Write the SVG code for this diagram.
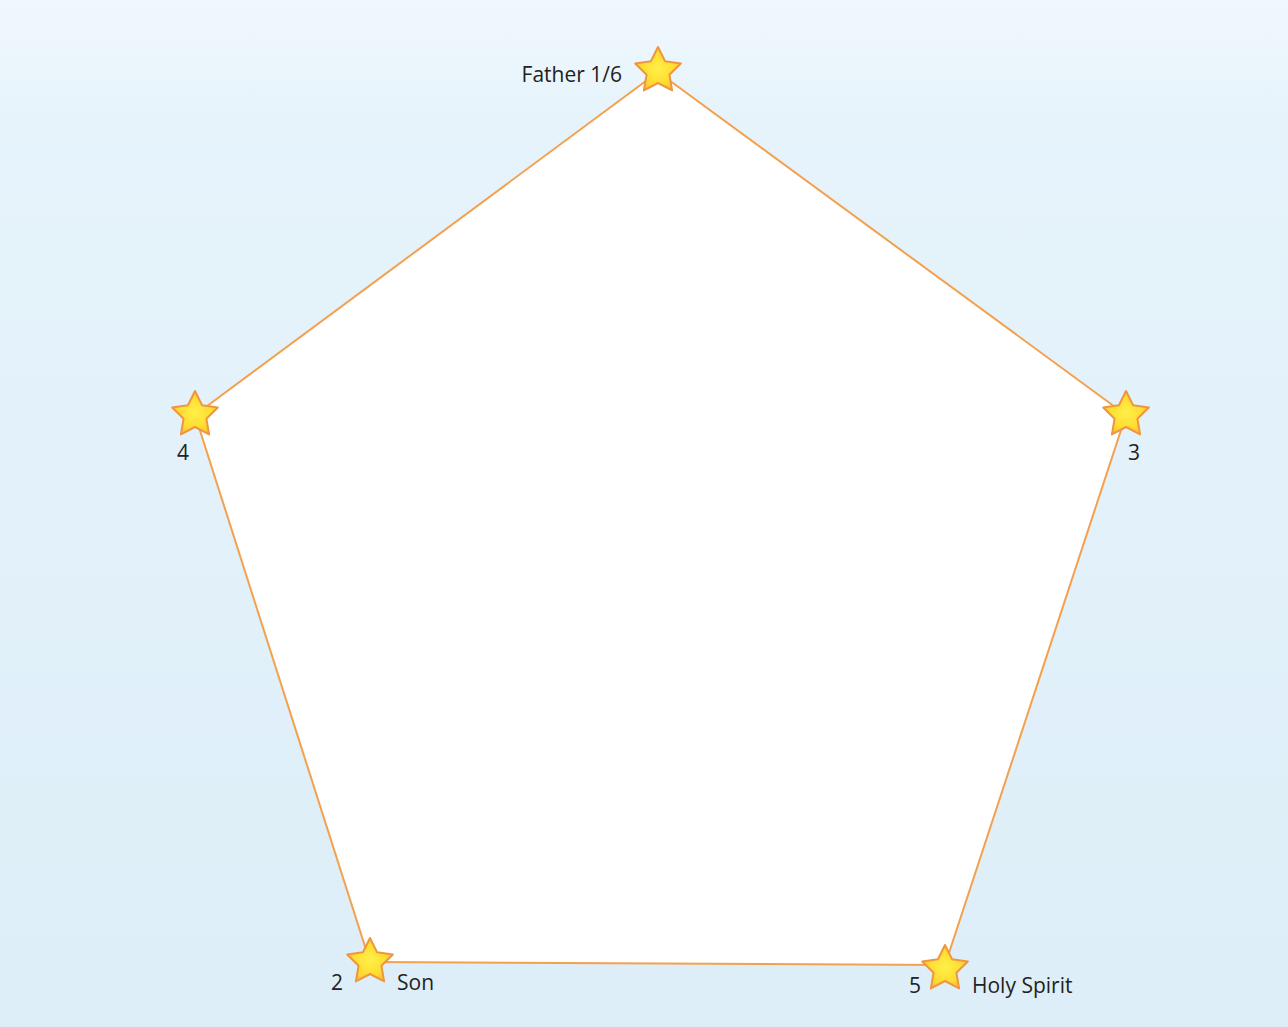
<svg xmlns="http://www.w3.org/2000/svg" width="1288" height="1027" viewBox="0 0 1288 1027">
  <style>
    .lbl { font-family: "Open Sans", "Liberation Sans", sans-serif; font-size: 21px; fill: #222; }
    .edge { stroke: #f4a04c; stroke-width: 2; fill: none; }
    .star { fill: url(#starGrad); stroke: #ef9640; stroke-width: 2; stroke-linejoin: round; }
  </style>
  <defs>
    <linearGradient id="bg" x1="0" y1="0" x2="0" y2="1">
      <stop offset="0" stop-color="#f0f8fd"/>
      <stop offset="0.12" stop-color="#e6f3fb"/>
      <stop offset="1" stop-color="#ddeef8"/>
    </linearGradient>
    <radialGradient id="starGrad" cx="0.5" cy="0.5" r="0.6">
      <stop offset="0" stop-color="#fff04a"/>
      <stop offset="0.6" stop-color="#ffdc30"/>
      <stop offset="1" stop-color="#f9b43a"/>
    </radialGradient>
    <path id="starShape" class="star" d="M0,-24 L7.05,-9.71 22.83,-7.42 11.41,3.71 14.11,19.42 0,12 -14.11,19.42 -11.41,3.71 -22.83,-7.42 -7.05,-9.71 Z"/>
  </defs>
  <rect x="0" y="0" width="1288" height="1027" fill="url(#bg)"/>
  <g id="connectors">
    <polygon points="658,72 1126,415 945,965 370,962 195,415" fill="#ffffff" stroke="none"/>
    <line class="edge" x1="658" y1="72" x2="1126" y2="415"/>
    <line class="edge" x1="1126" y1="415" x2="945" y2="965"/>
    <line class="edge" x1="945" y1="965" x2="370" y2="962"/>
    <line class="edge" x1="370" y1="962" x2="195" y2="415"/>
    <line class="edge" x1="195" y1="415" x2="658" y2="72"/>
  </g>
  <g id="father">
    <use href="#starShape" x="658" y="71"/>
    <text class="lbl" x="622" y="82" text-anchor="end">Father 1/6</text>
  </g>
  <g id="n4">
    <use href="#starShape" x="195" y="415"/>
    <text class="lbl" x="183" y="460" text-anchor="middle">4</text>
  </g>
  <g id="n3">
    <use href="#starShape" x="1126" y="415"/>
    <text class="lbl" x="1134" y="460" text-anchor="middle">3</text>
  </g>
  <g id="son">
    <use href="#starShape" x="370" y="962"/>
    <text class="lbl" x="337" y="990" text-anchor="middle">2</text>
    <text class="lbl" x="397" y="990">Son</text>
  </g>
  <g id="spirit">
    <use href="#starShape" x="945" y="969"/>
    <text class="lbl" x="915" y="993" text-anchor="middle">5</text>
    <text class="lbl" x="972" y="993">Holy Spirit</text>
  </g>
</svg>
